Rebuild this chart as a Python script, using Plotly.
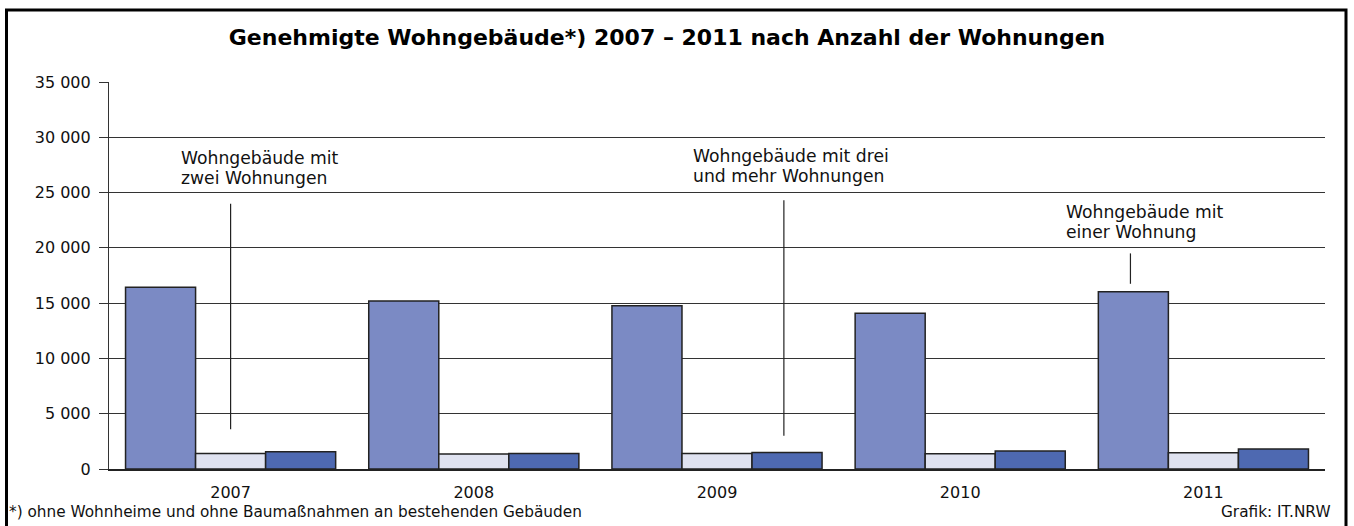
import plotly.graph_objects as go

years = ["2007", "2008", "2009", "2010", "2011"]
one_flat = [16430, 15190, 14770, 14080, 16030]
two_flat = [1410, 1360, 1410, 1390, 1470]
three_plus = [1570, 1410, 1500, 1630, 1810]

series_names = ["Wohngebäude mit einer Wohnung", "Wohngebäude mit zwei Wohnungen",
                "Wohngebäude mit drei und mehr Wohnungen"]
colors = ["#7B8AC4", "#DFE2F0", "#4E69B1"]

y_ticks = [0, 5000, 10000, 15000, 20000, 25000, 30000, 35000]
y_tick_text = ["0", "5 000", "10 000", "15 000", "20 000", "25 000", "30 000", "35 000"]

FONT = "DejaVu Sans"
W, H = 1354, 526
L, R, T, B = 109, 29, 82, 57
PW, PH = W - L - R, H - T - B
YMAX = 35000


def px_x(px):
    return (px - L) / PW


def px_y(py):
    return (H - B - py) / PH


def val_y(py):
    return (H - B - py) / PH * YMAX


fig = go.Figure()
for vals, name, col in zip([one_flat, two_flat, three_plus], series_names, colors):
    fig.add_trace(go.Bar(x=years, y=vals, name=name,
                         marker=dict(color=col, line=dict(color="#222222", width=1.5))))

fig.update_layout(
    width=W, height=H,
    margin=dict(l=L, r=R, t=T, b=B),
    barmode="group", bargap=0.136, bargroupgap=0,
    showlegend=False,
    plot_bgcolor="white", paper_bgcolor="white",
    font=dict(family=FONT, size=16, color="#111111"),
    xaxis=dict(type="category", showgrid=False, showline=True, linecolor="#222222", linewidth=1.5,
               ticks="", tickfont=dict(size=16), ticklabelstandoff=8),
    yaxis=dict(range=[0, YMAX], tickvals=y_ticks, ticktext=y_tick_text, showgrid=True,
               gridcolor="#333333", gridwidth=1.2, showline=True, linecolor="#333333", linewidth=1.2,
               ticks="outside", ticklen=9, tickcolor="#333333", tickwidth=1.2,
               tickfont=dict(size=16), ticklabelstandoff=5, zeroline=False),
    title=dict(text="<b>Genehmigte Wohngebäude*) 2007 – 2011 nach Anzahl der Wohnungen</b>",
               x=667 / W, xanchor="center", xref="container", y=1 - 37 / H, yanchor="middle",
               yref="container", font=dict(size=22, color="#000000")),
)

# leader lines
lines = [(0, 24000, 0, 3600), (2.275, 24300, 2.275, 3000), (3.70, 19500, 3.70, 16750)]
for x0, y0, x1, y1 in lines:
    fig.add_shape(type="line", xref="x", yref="y", x0=x0, y0=y0, x1=x1, y1=y1,
                  line=dict(color="#222222", width=1.2))

# series labels: glyphs 17.5px, line spacing ~20px (base size 15.5 -> 1.3*15.5)
labels = [
    (-0.212, 167.5, ["Wohngebäude mit", "zwei Wohnungen"]),
    (1.893, 165.5, ["Wohngebäude mit drei", "und mehr Wohnungen"]),
    (3.427, 221.5, ["Wohngebäude mit", "einer Wohnung"]),
]
for x, py, parts in labels:
    txt = "<br>".join(f'<span style="font-size:17.2px">{p}</span>' for p in parts)
    fig.add_annotation(x=x, y=val_y(py), xref="x", yref="y", text=txt, showarrow=False,
                       xanchor="left", yanchor="middle", align="left",
                       font=dict(size=15.5, color="#111111"))

fig.add_annotation(x=px_x(7), y=px_y(512), xref="paper", yref="paper", xanchor="left", yanchor="middle",
                   text="*) ohne Wohnheime und ohne Baumaßnahmen an bestehenden Gebäuden",
                   showarrow=False, font=dict(size=15.3))
fig.add_annotation(x=px_x(1333), y=px_y(512), xref="paper", yref="paper", xanchor="right", yanchor="middle",
                   text="Grafik: IT.NRW", showarrow=False, font=dict(size=15.3))

# outer frame
fig.add_shape(type="rect", xref="paper", yref="paper", x0=px_x(6.5), x1=px_x(1346), y0=px_y(540),
              y1=px_y(10), line=dict(color="#000000", width=3), layer="above")

fig.write_html("out.html", config={"displayModeBar": False},
               post_script="document.body.style.margin='0';")
